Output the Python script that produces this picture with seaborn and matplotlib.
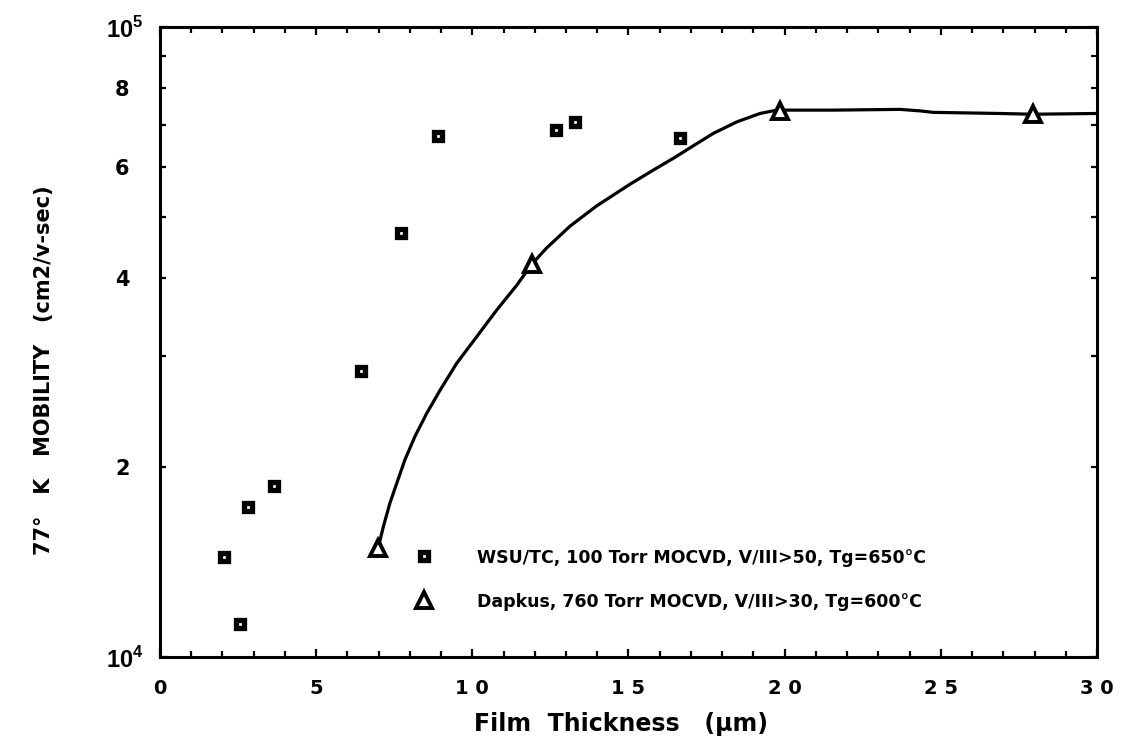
import numpy as np
import seaborn as sns
import matplotlib.pyplot as plt
from matplotlib.ticker import MultipleLocator, LogLocator, FixedFormatter, FixedLocator

# WSU/TC points (film thickness um, 77K mobility cm2/v-sec)
wsu_x = [2.05, 2.56, 2.82, 3.65, 6.44, 7.72, 8.89, 12.69, 13.29, 16.64]
wsu_y = [14410, 11280, 17300, 18680, 28440, 47050, 67140, 68640, 70600, 66600]

# Dapkus points
dap_x = [6.99, 11.90, 19.85, 27.95]
dap_y = [14920, 42100, 73600, 72700]

# hand drawn curve through the Dapkus data
curve_x = [6.99, 7.15, 7.36, 7.58, 7.84, 8.16, 8.54, 8.97, 9.50, 10.14, 10.78, 11.42,
           11.90, 12.38, 13.13, 13.98, 15.05, 15.80, 16.44, 16.97, 17.72, 18.47,
           19.21, 19.75, 21.55, 23.69, 24.33, 24.75, 26.90, 27.95, 30.0]
curve_y = [14920, 16100, 17540, 18870, 20550, 22380, 24370, 26530, 29260, 32240, 35540, 38900,
           42000, 44600, 48300, 52000, 56300, 59300, 61900, 64300, 67800, 70700,
           72900, 73800, 73800, 74000, 73600, 73200, 72900, 72700, 72900]

xtick_vals = [0, 5, 10, 15, 20, 25, 30]
xtick_labels = ['0', '5', '1 0', '1 5', '2 0', '2 5', '3 0']

sns.set_style('ticks')
plt.rcParams['font.family'] = ['DejaVu Sans']
plt.rcParams['font.weight'] = 'bold'
plt.rcParams['text.color'] = 'black'
plt.rcParams['axes.labelcolor'] = 'black'
plt.rcParams['mathtext.fontset'] = 'custom'
plt.rcParams['mathtext.rm'] = 'Liberation Sans:bold'
plt.rcParams['mathtext.bf'] = 'Liberation Sans:bold'

fig = plt.figure(figsize=(11.22, 7.54), dpi=100)
ax = fig.add_axes([0.1426, 0.1286, 0.8351, 0.8356])

sns.lineplot(x=curve_x, y=curve_y, ax=ax, color='black', linewidth=2.3, sort=False)
ax.plot(wsu_x, wsu_y, linestyle='none', marker='s', ms=6.3, mew=3.8,
        mfc='white', mec='black', label='WSU/TC, 100 Torr MOCVD, V/III>50, Tg=650°C')
ax.plot(dap_x, dap_y, linestyle='none', marker='^', ms=11, mew=2.8,
        mfc='white', mec='black', label='Dapkus, 760 Torr MOCVD, V/III>30, Tg=600°C')

ax.set_yscale('log')
ax.set_xlim(0, 30)
ax.set_ylim(1e4, 1e5)

ax.xaxis.set_major_locator(FixedLocator(xtick_vals))
ax.xaxis.set_major_formatter(FixedFormatter(xtick_labels))
ax.xaxis.set_minor_locator(MultipleLocator(1))

ax.yaxis.set_major_locator(FixedLocator([1e4, 1e5]))
ax.yaxis.set_major_formatter(FixedFormatter([r'$10^{4}$', r'$10^{5}$']))
ax.yaxis.set_minor_locator(LogLocator(base=10, subs=np.arange(2, 10)))
minor_lab = {2: '2', 4: '4', 6: '6', 8: '8'}
ax.yaxis.set_minor_formatter(plt.FuncFormatter(
    lambda v, p: minor_lab.get(int(round(v / 1e4)), '') if v < 1e5 else ''))

for s in ax.spines.values():
    s.set_linewidth(2.2)
    s.set_color('black')
    s.set_visible(True)
ax.tick_params(which='both', direction='in', top=True, right=True, width=1.6, colors='black')
ax.tick_params(which='major', length=6)
ax.tick_params(which='minor', length=4)
ax.tick_params(axis='x', which='both', labelsize=14, pad=16)
ax.tick_params(axis='y', which='major', labelsize=17, pad=12)
ax.tick_params(axis='y', which='minor', labelsize=15, pad=22)

ax.set_xlabel('Film  Thickness   (µm)', fontsize=17, fontweight='bold', color='black')
ax.set_ylabel('77°   K   MOBILITY   (cm2/v-sec)', fontsize=15, fontweight='bold', color='black')
ax.yaxis.set_label_coords(-0.113, 0.455)
ax.xaxis.set_label_coords(0.492, -0.088)

leg = ax.legend(loc='center left', bbox_to_anchor=(0.272, 0.123), frameon=False,
                handlelength=1.0, handletextpad=2.6, labelspacing=1.5,
                borderpad=0, borderaxespad=0, prop={'weight': 'bold', 'size': 12.5})
for t in leg.get_texts():
    t.set_color('black')

fig.savefig('out.png', dpi=100)
